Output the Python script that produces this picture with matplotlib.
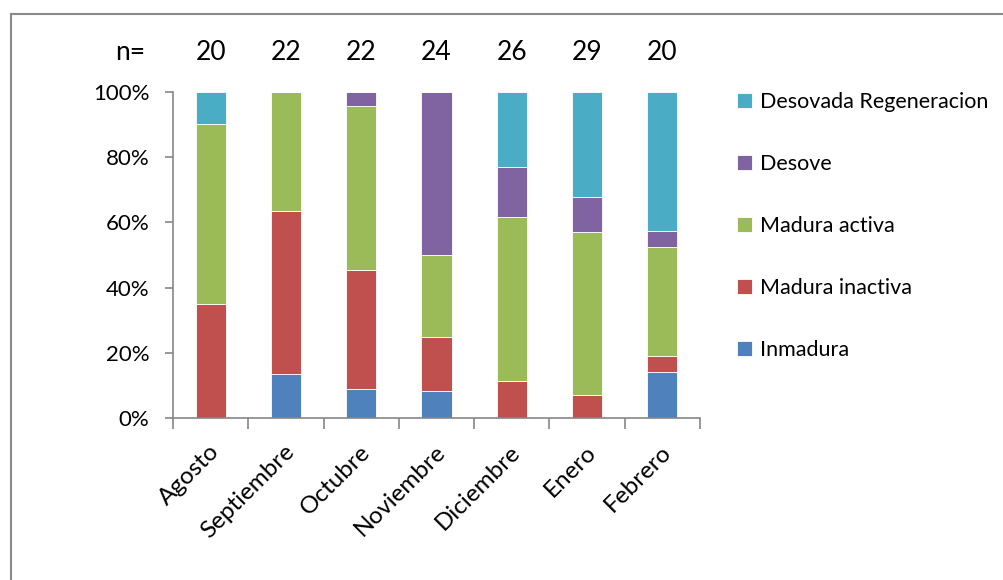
import numpy as np
import matplotlib
matplotlib.use("Agg")
import matplotlib.pyplot as plt
from matplotlib.patches import Rectangle

plt.rcParams['font.family'] = ['Lato', 'DejaVu Sans']

# meses de muestreo y tamaño de muestra
meses = ["Agosto", "Septiembre", "Octubre", "Noviembre", "Diciembre", "Enero", "Febrero"]
n_muestra = [20, 22, 22, 24, 26, 29, 20]

# porcentaje de cada estadio de madurez por mes
inmadura = [0, 13.6, 9.1, 8.3, 0, 0, 14.3]
madura_inactiva = [35, 50.0, 36.4, 16.7, 11.5, 7.0, 4.8]
madura_activa = [55, 36.4, 50.0, 25.0, 50.0, 50.0, 33.3]
desove = [0, 0, 4.5, 50.0, 15.4, 10.8, 4.8]
desovada_regen = [10, 0, 0, 0, 23.1, 32.2, 42.8]

series = [
    ("Inmadura", inmadura, "#4F81BD"),
    ("Madura inactiva", madura_inactiva, "#C0504D"),
    ("Madura activa", madura_activa, "#9BBB59"),
    ("Desove", desove, "#8064A2"),
    ("Desovada Regeneracion", desovada_regen, "#4BACC6"),
]

fig = plt.figure(figsize=(10.04, 5.8), dpi=100)
ax = fig.add_axes([0.1723, 0.2788, 0.5249, 0.5631])

x = np.arange(len(meses))
base = np.zeros(len(meses))
handles = []
for nombre, vals, color in series:
    vals = np.array(vals, dtype=float)
    b = ax.bar(x, vals, 0.4, bottom=base, color=color, edgecolor="white",
               linewidth=0.6, label=nombre)
    handles.append(b)
    base += vals

ax.set_xlim(-0.5, len(meses) - 0.5)
ax.set_ylim(0, 100)

gris = "#868686"
for lado in ["top", "right"]:
    ax.spines[lado].set_visible(False)
for lado in ["left", "bottom"]:
    ax.spines[lado].set_color(gris)
    ax.spines[lado].set_linewidth(1.2)

ax.set_yticks(np.arange(0, 101, 20))
ax.set_yticklabels([f"{v}%" for v in range(0, 101, 20)], fontsize=16)
ax.tick_params(axis="y", length=6, width=1.2, color=gris, pad=11)

ax.set_xticks(np.arange(-0.5, len(meses), 1.0))
ax.set_xticklabels([])
ax.tick_params(axis="x", length=8, width=1.2, color=gris)
for i, mes in enumerate(meses):
    ax.text(i - 0.03, -7, mes, rotation=45, ha="right", va="top",
            rotation_mode="anchor", fontsize=17.5)

# tamaño de muestra sobre cada barra
for i, n in enumerate(n_muestra):
    ax.text(i, 112, str(n), ha="center", va="center", fontsize=19, clip_on=False)
ax.text(-1.07, 112, "n=", ha="center", va="center", fontsize=19, clip_on=False)

leg = fig.legend(handles[::-1], [s[0] for s in series][::-1],
                 loc="upper left", bbox_to_anchor=(0.715, 0.874),
                 frameon=False, fontsize=15.5, labelspacing=1.95,
                 handlelength=0.7, handleheight=0.7, handletextpad=0.35)

# marco exterior del gráfico
fig.patches.append(Rectangle((11 / 1004, -0.05), 1.05, 1 - 14 / 580 + 0.05,
                             transform=fig.transFigure, fill=False,
                             edgecolor="#8a8a8a", linewidth=1.5))

fig.savefig("out.png", dpi=100)
